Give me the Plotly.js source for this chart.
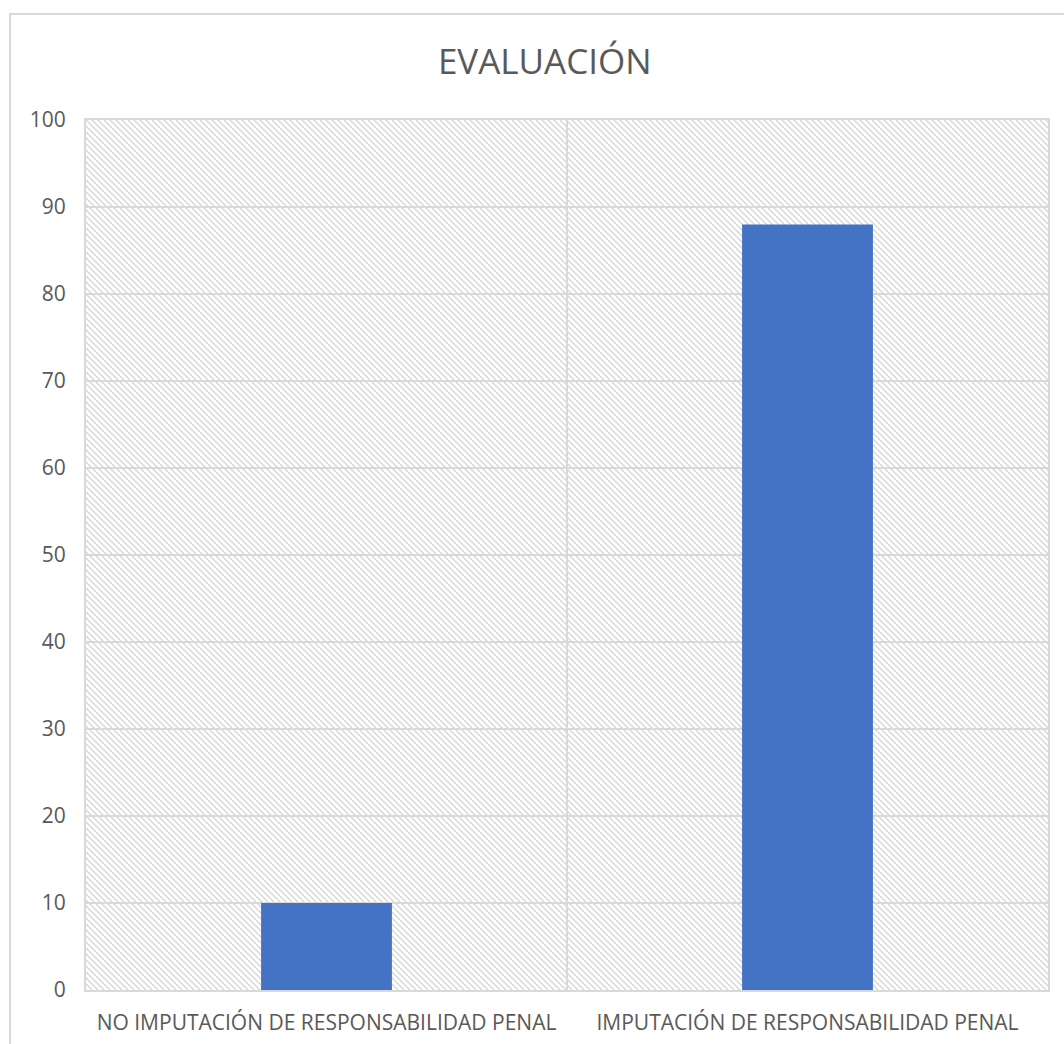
<!DOCTYPE html>
<html>
<head>
<meta charset="utf-8">
<script src="https://cdn.plot.ly/plotly-3.0.1.min.js"></script>
<style>
html,body{margin:0;padding:0;background:#fff;}
#wrap{position:relative;width:1064px;height:1044px;overflow:hidden;}
#chart{position:absolute;left:0;top:0;width:1064px;height:1044px;}
#frame{position:absolute;left:9px;top:13px;width:1200px;height:1200px;border:2px solid #d9d9d9;pointer-events:none;}
</style>
</head>
<body>
<div id="wrap"><div id="chart"></div><div id="frame"></div></div>
<script>
const categories = ["NO IMPUTACIÓN DE RESPONSABILIDAD PENAL", "IMPUTACIÓN DE RESPONSABILIDAD PENAL"];
const values = [10, 88];
const yTicks = [0,10,20,30,40,50,60,70,80,90,100];

const W = 962, H = 870;
const hatch = "data:image/svg+xml;utf8," + encodeURIComponent(
 `<svg xmlns="http://www.w3.org/2000/svg" width="${W}" height="${H}">
  <defs><pattern id="p" width="6" height="6" patternUnits="userSpaceOnUse">
   <path d="M-1,-1 L7,7 M-1,5 L1,7 M5,-1 L7,1" stroke="#d6d6d6" stroke-width="1.4"/>
  </pattern></defs>
  <rect width="${W}" height="${H}" fill="#ffffff"/>
  <rect width="${W}" height="${H}" fill="url(#p)"/>
 </svg>`);

const trace = {
  type: "bar",
  x: categories,
  y: values,
  marker: {color: "#4472C4"},
  hoverinfo: "x+y"
};

const layout = {
  width: 1064, height: 1044,
  margin: {l: 86, r: 16, t: 120, b: 54},
  paper_bgcolor: "rgba(0,0,0,0)",
  plot_bgcolor: "rgba(0,0,0,0)",
  bargap: 0.728,
  showlegend: false,
  font: {family: "Open Sans, sans-serif", color: "#595959"},
  title: {text: "EVALUACIÓN", x: 0.512, xref: "container", xanchor: "center", y: 1 - 62/1044, yanchor: "middle",
          font: {size: 35, color: "#595959", family: "Open Sans, sans-serif"}},
  xaxis: {
    type: "category",
    tickson: "boundaries",
    showgrid: true, gridcolor: "#d9d9d9", gridwidth: 1.5,
    showline: true, linecolor: "#d9d9d9", linewidth: 2, mirror: true,
    ticks: "", ticklabelstandoff: 13,
    tickfont: {size: 21, color: "#595959"},
    zeroline: false, fixedrange: true
  },
  yaxis: {
    range: [0, 100],
    tickvals: yTicks,
    ticktext: yTicks.map(String),
    showgrid: true, gridcolor: "#d9d9d9", gridwidth: 1.5,
    showline: true, linecolor: "#d9d9d9", linewidth: 2, mirror: true,
    ticks: "outside", ticklen: 8, tickcolor: "rgba(0,0,0,0)", ticklabelstandoff: 6,
    tickfont: {size: 21, color: "#595959"},
    zeroline: false, fixedrange: true
  },
  images: [{
    source: hatch, xref: "paper", yref: "paper", x: 0, y: 1, sizex: 1, sizey: 1,
    xanchor: "left", yanchor: "top", sizing: "stretch", layer: "below"
  }]
};

Plotly.newPlot("chart", [trace], layout, {displayModeBar: false, staticPlot: true});
</script>
</body>
</html>
